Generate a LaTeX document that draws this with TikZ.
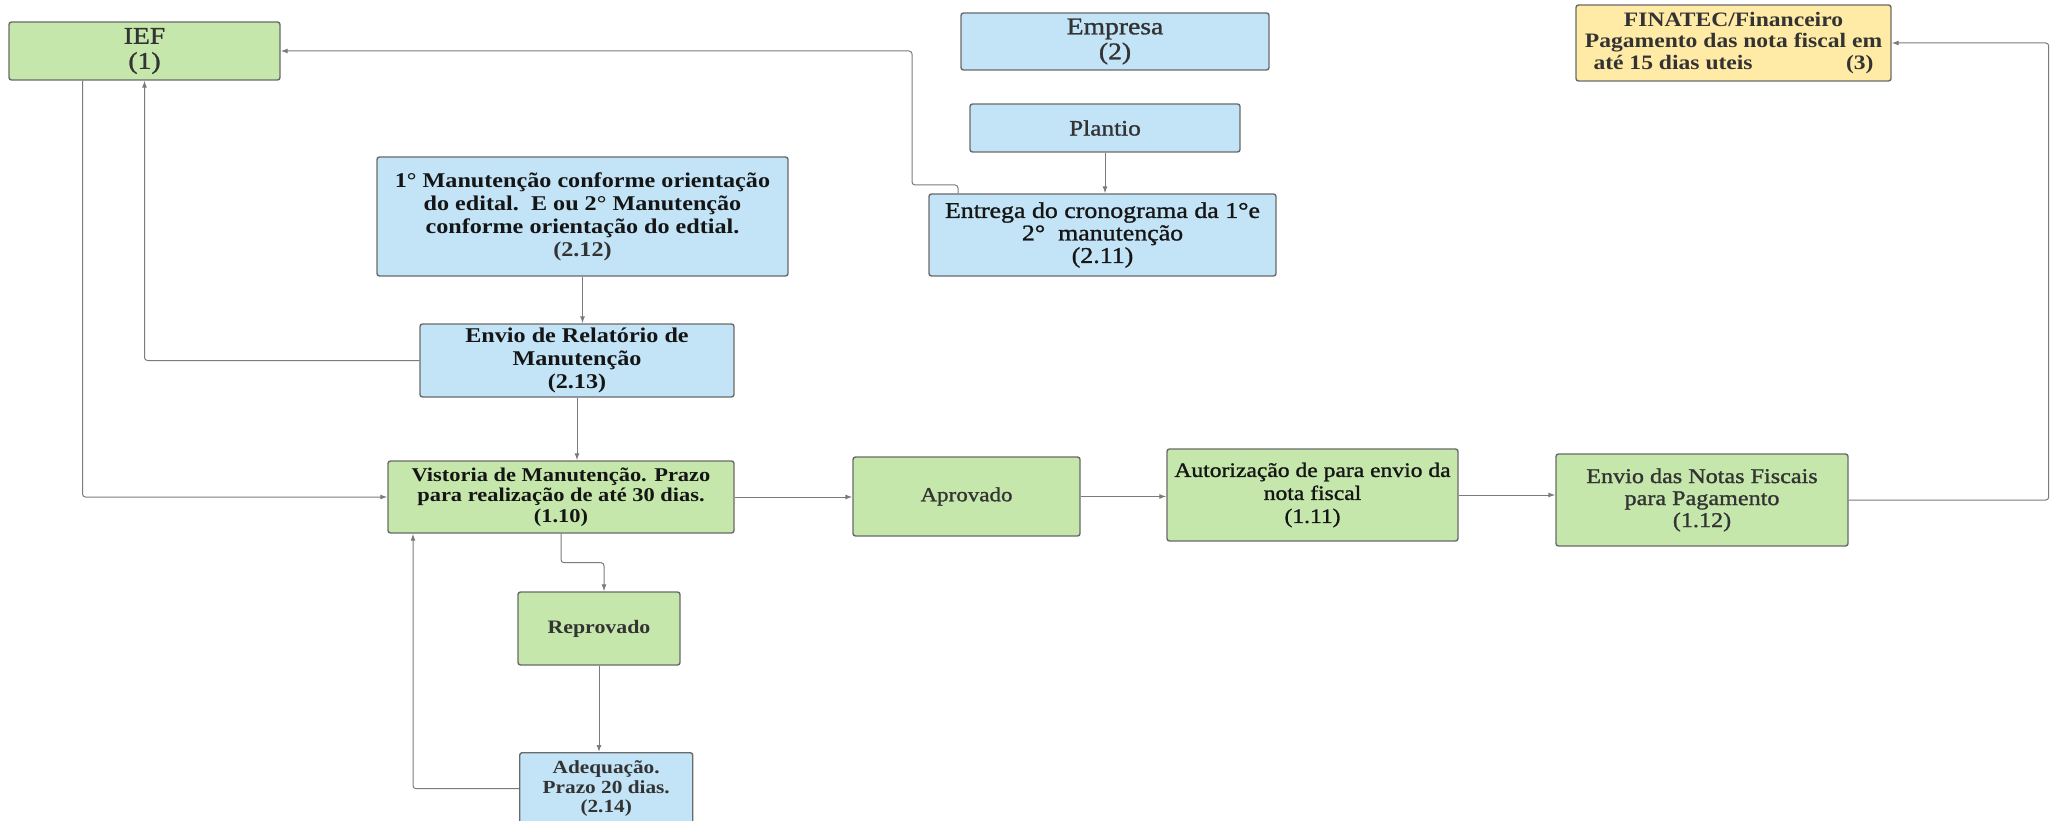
\documentclass[tikz,border=0pt]{standalone}
\usepackage{fontspec}
\setmainfont{Liberation Serif}[FakeStretch=1.15]
\newfontfamily\medfont{Liberation Serif}[FakeStretch=1.15, FakeBold=1.2]
\usetikzlibrary{arrows.meta}
\definecolor{gfill}{HTML}{C5E7AB}
\definecolor{bfill}{HTML}{C2E4F6}
\definecolor{yfill}{HTML}{FFEBA6}
\definecolor{bord}{HTML}{6A6A6A}
\definecolor{linec}{HTML}{7B7B7B}
\definecolor{txtd}{HTML}{333333}
\definecolor{txtb}{HTML}{151515}
\newcommand{\fsz}[2]{\fontsize{#1}{#2}\selectfont}
\begin{document}
\begin{tikzpicture}[x=1pt,y=-1pt,
  box/.style={draw=bord, line width=1.4pt, rounded corners=2.5pt, inner sep=0pt, align=center, text=txtd},
  gbox/.style={box, fill=gfill},
  bbox/.style={box, fill=bfill},
  ybox/.style={box, fill=yfill},
  conn/.style={draw=linec, line width=1pt, rounded corners=3pt, -{Latex[length=7pt,width=5pt]}},
]
\path[use as bounding box] (0,0) rectangle (2055,821);
\clip (0,0) rectangle (2055,821);

% nodes
\node[gbox, minimum width=271pt, minimum height=58pt, font=\medfont\fsz{24}{25}] (ief) at (144.5,51) {IEF\\(1)};
\node[bbox, minimum width=308pt, minimum height=57pt, font=\medfont\fsz{24}{25}] (emp) at (1115,41.5) {Empresa\\(2)};
\node[bbox, minimum width=270pt, minimum height=48pt, font=\medfont\fsz{22}{24}] (plan) at (1105,128) {Plantio};
\node[bbox, minimum width=347pt, minimum height=82pt, font=\medfont\fsz{22.5}{22.5}, text=txtb] (ent) at (1102.5,235) {Entrega do cronograma da 1°e\\2°\ \ manutenção\\(2.11)};
\node[ybox, minimum width=315pt, minimum height=76pt, font=\bfseries\fsz{20.5}{21.5}] (fin) at (1733.5,43) {FINATEC/Financeiro\\Pagamento das nota fiscal em\\\makebox[280pt]{até 15 dias uteis\hfill(3)}};
\node[bbox, minimum width=411pt, minimum height=119pt, font=\bfseries\fsz{21}{23}, text=txtb] (m12) at (582.5,216.5) {1° Manutenção conforme orientação\\do edital.\ \ E ou 2° Manutenção\\conforme orientação do edtial.\\\textcolor{txtd}{(2.12)}};
\node[bbox, minimum width=314pt, minimum height=73pt, font=\bfseries\fsz{21}{23}, text=txtb] (m13) at (577,360.5) {Envio de Relatório de\\Manutenção\\(2.13)};
\node[gbox, minimum width=346pt, minimum height=72pt, font=\bfseries\fsz{19.5}{20.7}, text=txtb] (vis) at (561,497) {Vistoria de Manutenção. Prazo\\para realização de até 30 dias.\\(1.10)};
\node[gbox, minimum width=227pt, minimum height=79pt, font=\medfont\fsz{20}{22}] (apr) at (966.5,496.5) {Aprovado};
\node[gbox, minimum width=291pt, minimum height=92pt, font=\medfont\fsz{20.5}{23}, text=txtb] (aut) at (1312.5,495) {Autorização de para envio da\\nota fiscal\\(1.11)};
\node[gbox, minimum width=292pt, minimum height=92pt, font=\medfont\fsz{21}{22}] (env) at (1702,500) {Envio das Notas Fiscais\\para Pagamento\\(1.12)};
\node[gbox, minimum width=162pt, minimum height=73pt, font=\bfseries\fsz{19}{21}] (rep) at (599,628.5) {Reprovado};
\node[bbox, anchor=north west, minimum width=173pt, minimum height=72pt, font=\bfseries\fsz{18.5}{19.5}] (adq) at (519,752) {Adequação.\\Prazo 20 dias.\\(2.14)};

% connectors
\draw[conn] ([xshift=-144.5pt]ent.north) |- (912,185) |- (ief.east);
\draw[conn] (plan.south) -- (plan.south |- ent.north);
\draw[conn] (m12.south) -- (m12.south |- m13.north);
\draw[conn] (m13.south) -- (m13.south |- vis.north);
\draw[conn] (m13.west) -| (ief.south);
\draw[conn] ([xshift=-62pt]ief.south) |- (vis.west);
\draw[conn] (vis.east) -- (vis.east -| apr.west);
\draw[conn] (apr.east) -- (apr.east -| aut.west);
\draw[conn] (aut.east) -- (aut.east -| env.west);
\draw[conn] (env.east) -- ++(200,0) |- (fin.east);
\draw[conn] (vis.south) -- ++(0,29) -| ([xshift=5pt]rep.north);
\draw[conn] (rep.south) -- (rep.south |- adq.north);
\draw[conn] (adq.west) -| ([xshift=-148pt]vis.south);
\end{tikzpicture}
\end{document}
